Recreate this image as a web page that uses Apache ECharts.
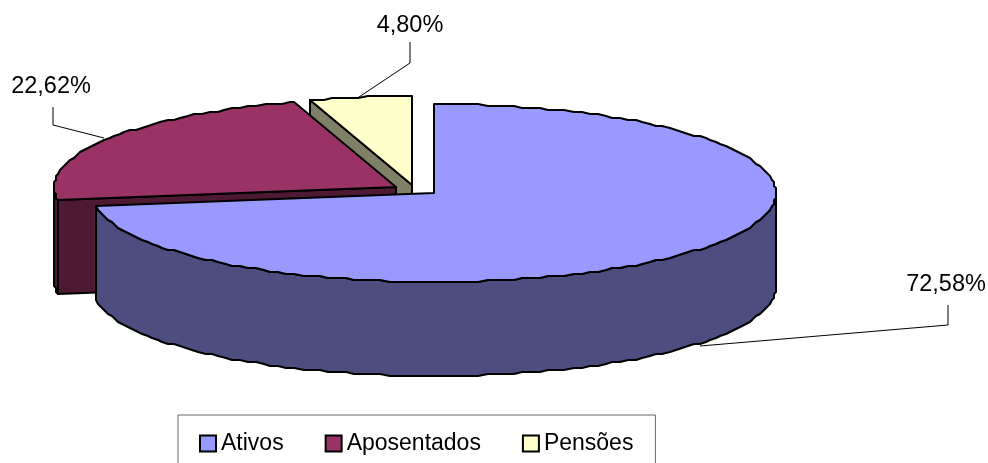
<!DOCTYPE html>
<html>
<head>
<meta charset="utf-8">
<style>
html, body { margin: 0; padding: 0; background: #fff; overflow: hidden; }
#main { width: 988px; height: 463px; }
</style>
<script src="https://cdn.jsdelivr.net/npm/echarts@6/dist/echarts.min.js"></script>
</head>
<body>
<div id="main"></div>
<script>
const categories = ['Ativos', 'Aposentados', 'Pensões'];
const values = [72.58, 22.62, 4.80];

const topColors = ['#9999FF', '#993366', '#FFFFCC'];
const sideColors = ['#4D4D80', '#4D1933', '#808066'];

// exploded centre of each slice on the screen
const centers = [[434, 193], [396, 187], [412, 185]];
const radiusX = 342;
const radiusY = 89;
const depth = 94;
// the original outline is coarse, so points get snapped to this grid
const snap = 2;
const step = 1.5;

// label position and leader line per slice
const labelPos = [[946, 285], [51, 87], [410, 26]];
const leaders = [
    [[948, 305], [948, 325], [700, 346]],
    [[53, 107], [53, 125], [104, 138]],
    [[410, 42], [410, 63], [359, 97]]
];

const total = values.reduce((a, b) => a + b, 0);
const startAngles = values.map((v, i) => values.slice(0, i).reduce((a, b) => a + b, 0) / total * 360);

function rim(c, deg, down) {
    const r = deg * Math.PI / 180;
    return [
        Math.round((c[0] + radiusX * Math.sin(r)) / snap) * snap,
        Math.round((c[1] - radiusY * Math.cos(r) + (down || 0)) / snap) * snap
    ];
}

// same sample angles for every arc so top rim and wall rim stay on one line
function arc(c, from, to, down) {
    const pts = [rim(c, from, down)];
    for (let a = (Math.floor(from / step) + 1) * step; a < to; a += step) {
        pts.push(rim(c, a, down));
    }
    pts.push(rim(c, to, down));
    return pts;
}

function face(points, color) {
    return {
        type: 'polygon',
        shape: { points: points },
        style: { fill: color, stroke: '#000', lineWidth: 2, lineJoin: 'round' }
    };
}

function cutFace(c, deg, color) {
    const p = rim(c, deg);
    return face([c, p, [p[0], p[1] + depth], [c[0], c[1] + depth]], color);
}

function renderSlice(idx, api) {
    const value = api.value(0);
    const from = startAngles[idx];
    const to = from + value / total * 360;
    const c = centers[idx];
    const children = [];

    // only the faces turned towards the viewer
    if (from > 180 && from < 360) children.push(cutFace(c, from, sideColors[idx]));
    if (to > 0 && to < 180) children.push(cutFace(c, to, sideColors[idx]));
    const wallFrom = Math.max(from, 90);
    const wallTo = Math.min(to, 270);
    if (wallFrom < wallTo) {
        children.push(face(
            arc(c, wallFrom, wallTo).concat(arc(c, wallFrom, wallTo, depth).reverse()),
            sideColors[idx]
        ));
    }
    children.push(face([c].concat(arc(c, from, to)), topColors[idx]));

    children.push({
        type: 'polyline',
        shape: { points: leaders[idx] },
        style: { fill: null, stroke: '#000', lineWidth: 1 }
    });
    children.push({
        type: 'text',
        style: {
            x: labelPos[idx][0],
            y: labelPos[idx][1],
            text: value.toFixed(2).replace('.', ',') + '%',
            font: '23.5px "Liberation Sans", Arial, sans-serif',
            fill: '#000',
            align: 'center',
            verticalAlign: 'middle'
        }
    });
    return { type: 'group', children: children };
}

const chart = echarts.init(document.getElementById('main'), null, { renderer: 'canvas' });

// back slices first, the big one goes on top
const drawOrder = [2, 1, 0];

chart.setOption({
    animation: false,
    backgroundColor: '#fff',
    legend: {
        data: categories,
        left: 178,
        top: 415,
        padding: [17, 22, 30, 21],
        itemGap: 41,
        itemWidth: 16,
        itemHeight: 16,
        icon: 'rect',
        borderColor: '#666',
        borderWidth: 1,
        selectedMode: false,
        itemStyle: { borderColor: '#000', borderWidth: 2 },
        textStyle: {
            color: '#000',
            fontSize: 23,
            fontFamily: '"Liberation Sans", Arial, sans-serif',
            padding: [0, 0, 0, 0]
        }
    },
    series: drawOrder.map(i => ({
        type: 'custom',
        name: categories[i],
        coordinateSystem: 'none',
        silent: true,
        z: 2 - i,
        itemStyle: { color: topColors[i] },
        data: [[values[i]]],
        renderItem: (params, api) => renderSlice(i, api)
    }))
});
</script>
</body>
</html>
